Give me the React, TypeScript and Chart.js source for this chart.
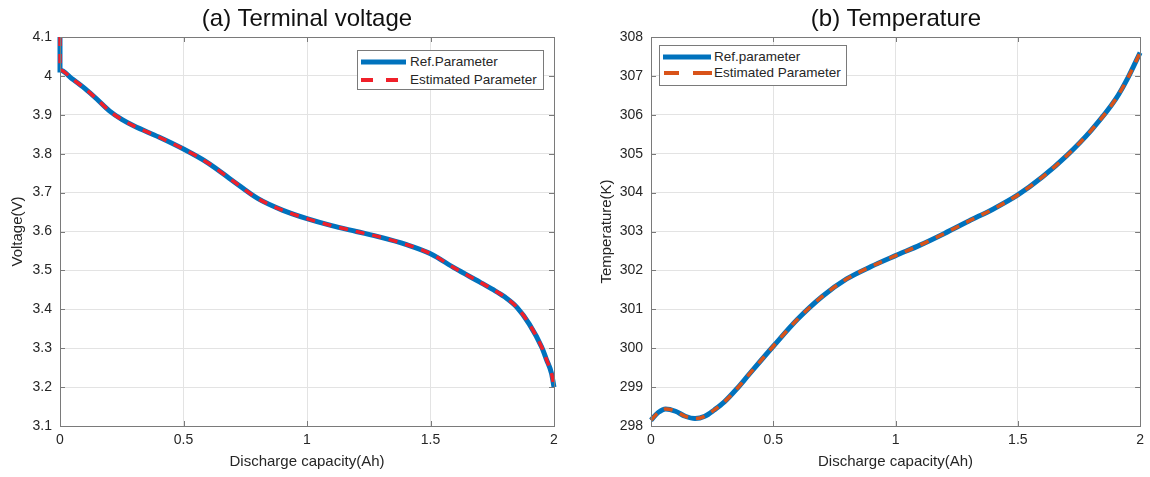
import React, { useEffect, useRef } from "react";
import { Chart, registerables } from "chart.js";

Chart.register(...registerables);

// ---- Data ----
const capacityV = [0, 0, 0.05, 0.1, 0.15, 0.2, 0.25, 0.3, 0.4, 0.5, 0.6, 0.7, 0.8, 0.9, 1.0, 1.1, 1.2, 1.3, 1.4, 1.5, 1.6, 1.7, 1.75, 1.8, 1.85, 1.9, 1.95, 1.97, 1.99, 2.0];
const voltageRef = [4.1, 4.015, 3.992, 3.968, 3.94, 3.91, 3.888, 3.871, 3.843, 3.812, 3.776, 3.73, 3.685, 3.655, 3.633, 3.615, 3.6, 3.585, 3.567, 3.543, 3.505, 3.47, 3.452, 3.432, 3.405, 3.362, 3.303, 3.27, 3.235, 3.2];
const voltageEst = [4.1, 4.015, 3.992, 3.968, 3.94, 3.91, 3.888, 3.871, 3.843, 3.812, 3.776, 3.73, 3.685, 3.655, 3.633, 3.615, 3.6, 3.585, 3.567, 3.543, 3.505, 3.47, 3.452, 3.432, 3.405, 3.362, 3.303, 3.27, 3.235, 3.2];

const capacityT = [0, 0.03, 0.06, 0.1, 0.14, 0.18, 0.22, 0.26, 0.3, 0.35, 0.4, 0.5, 0.6, 0.7, 0.8, 0.9, 1.0, 1.1, 1.2, 1.3, 1.4, 1.5, 1.6, 1.7, 1.8, 1.9, 1.95, 2.0];
const tempRef = [298.15, 298.35, 298.44, 298.38, 298.25, 298.19, 298.25, 298.42, 298.62, 298.95, 299.32, 300.05, 300.75, 301.33, 301.78, 302.1, 302.38, 302.65, 302.95, 303.27, 303.58, 303.94, 304.4, 304.95, 305.6, 306.4, 306.95, 307.6];
const tempEst = [298.15, 298.35, 298.44, 298.38, 298.25, 298.19, 298.25, 298.42, 298.62, 298.95, 299.32, 300.05, 300.75, 301.33, 301.78, 302.1, 302.38, 302.65, 302.95, 303.27, 303.58, 303.94, 304.4, 304.95, 305.6, 306.4, 306.95, 307.6];

const xTicks = [0, 0.5, 1, 1.5, 2];

const FONT = "'Liberation Sans', Arial, Helvetica, sans-serif";
const TEXT = "#262626";
const BLUE = "#0072BD";
const RED = "#F0202A";
const ORANGE = "#D95319";

const boxPlugin = {
  id: "matlabBox",
  afterDatasetsDraw(chart: any) {
    const { ctx, chartArea: a, scales } = chart;
    ctx.save();
    ctx.strokeStyle = "#7a7a7a";
    ctx.lineWidth = 1;
    const tl = 5;
    ctx.beginPath();
    for (const t of scales.x.ticks) {
      const px = Math.round(scales.x.getPixelForValue(t.value)) + 0.5;
      ctx.moveTo(px, a.bottom);
      ctx.lineTo(px, a.bottom - tl);
      ctx.moveTo(px, a.top);
      ctx.lineTo(px, a.top + tl);
    }
    for (const t of scales.y.ticks) {
      const py = Math.round(scales.y.getPixelForValue(t.value)) + 0.5;
      ctx.moveTo(a.left, py);
      ctx.lineTo(a.left + tl, py);
      ctx.moveTo(a.right, py);
      ctx.lineTo(a.right - tl, py);
    }
    ctx.stroke();
    ctx.strokeRect(Math.round(a.left) + 0.5, Math.round(a.top) + 0.5, Math.round(a.right - a.left), Math.round(a.bottom - a.top));
    ctx.restore();
  },
};

function makePoints(xs: number[], ys: number[]) {
  return xs.map((x, i) => ({ x, y: ys[i] }));
}

type PanelProps = {
  xs: number[];
  refY: number[];
  estY: number[];
  refLabel: string;
  estColor: string;
  yMin: number;
  yMax: number;
  yStep: number;
  yTitle: string;
  yAxisWidth: number;
  rightPad: number;
  yTitlePad: number;
};

function Panel(p: PanelProps) {
  const ref = useRef<HTMLCanvasElement | null>(null);
  useEffect(() => {
    if (!ref.current) return;
    const chart = new Chart(ref.current, {
      type: "line",
      data: {
        datasets: [
          {
            label: p.refLabel,
            data: makePoints(p.xs, p.refY),
            borderColor: BLUE,
            borderWidth: 5,
            pointRadius: 0,
            cubicInterpolationMode: "monotone",
            fill: false,
            order: 2,
            clip: 4,
          },
          {
            label: "Estimated Parameter",
            data: makePoints(p.xs, p.estY),
            borderColor: p.estColor,
            borderWidth: 3.5,
            borderDash: [9, 8],
            pointRadius: 0,
            cubicInterpolationMode: "monotone",
            fill: false,
            order: 1,
            clip: 4,
          },
        ],
      },
      options: {
        animation: false,
        responsive: false,
        devicePixelRatio: 1,
        layout: { padding: { top: 37, right: p.rightPad, left: 0, bottom: 0 } },
        plugins: { legend: { display: false }, tooltip: { enabled: false }, title: { display: false } },
        scales: {
          x: {
            type: "linear",
            min: 0,
            max: 2,
            afterBuildTicks: (s: any) => {
              s.ticks = xTicks.map((v) => ({ value: v }));
            },
            afterFit: (s: any) => {
              s.height = 51;
            },
            ticks: {
              callback: (v: any) => String(Math.round(Number(v) * 10) / 10),
              font: { family: FONT, size: 14 },
              color: TEXT,
              padding: 6,
              maxRotation: 0,
            },
            grid: { color: "#e3e3e3", drawTicks: false, lineWidth: 1 },
            border: { display: false },
            title: {
              display: true,
              text: "Discharge capacity(Ah)",
              font: { family: FONT, size: 15 },
              color: TEXT,
              padding: { top: 0, bottom: 6 },
            },
          },
          y: {
            type: "linear",
            min: p.yMin,
            max: p.yMax,
            ticks: {
              stepSize: p.yStep,
              callback: (v: any) => String(Math.round(Number(v) * 10) / 10),
              font: { family: FONT, size: 14 },
              color: TEXT,
              padding: 8,
            },
            afterFit: (s: any) => {
              s.width = p.yAxisWidth;
            },
            grid: { color: "#e3e3e3", drawTicks: false, lineWidth: 1 },
            border: { display: false },
            title: {
              display: true,
              text: p.yTitle,
              font: { family: FONT, size: 15 },
              color: TEXT,
              padding: { top: p.yTitlePad, bottom: 0 },
            },
          },
        },
      },
      plugins: [boxPlugin],
    } as any);
    return () => chart.destroy();
  }, []);
  return <canvas ref={ref} width={575} height={477} style={{ width: 575, height: 477, display: "block" }} />;
}

function LegendBox(props: {
  left: number;
  top: number;
  width: number;
  height: number;
  refLabel: string;
  estColor: string;
  sampleW: number;
  dashes: [number, number][];
  rows: [number, number];
  textX: number;
}) {
  const { left, top, width, height, refLabel, estColor, sampleW, dashes, rows, textX } = props;
  return (
    <div
      style={{
        position: "absolute",
        left,
        top,
        width,
        height,
        border: "1px solid #7a7a7a",
        background: "#fff",
        boxSizing: "border-box",
        fontFamily: FONT,
        fontSize: 13.5,
        color: TEXT,
      }}
    >
      <svg width={width} height={height} style={{ position: "absolute", left: -1, top: -1 }}>
        <line x1={4} x2={4 + sampleW} y1={rows[0]} y2={rows[0]} stroke={BLUE} strokeWidth={5} />
        {dashes.map(([a, b], i) => (
          <line key={i} x1={a} x2={b} y1={rows[1]} y2={rows[1]} stroke={estColor} strokeWidth={4} />
        ))}
      </svg>
      <div style={{ position: "absolute", left: textX, top: rows[0] - 9, lineHeight: "16px", whiteSpace: "nowrap" }}>{refLabel}</div>
      <div style={{ position: "absolute", left: textX, top: rows[1] - 9, lineHeight: "16px", whiteSpace: "nowrap" }}>Estimated Parameter</div>
    </div>
  );
}

export default function App() {
  const titleStyle: React.CSSProperties = {
    position: "absolute",
    top: 4,
    fontFamily: FONT,
    fontSize: 24,
    color: "#111",
    whiteSpace: "nowrap",
    transform: "translateX(-50%)",
    lineHeight: "28px",
  };
  return (
    <div style={{ position: "fixed", left: 0, top: 0, width: 1150, height: 477, background: "#fff", overflow: "hidden" }}>
      <div style={{ position: "absolute", left: 0, top: 0 }}>
        <Panel
          xs={capacityV}
          refY={voltageRef}
          estY={voltageEst}
          refLabel="Ref.Parameter"
          estColor={RED}
          yMin={3.1}
          yMax={4.1}
          yStep={0.1}
          yTitle="Voltage(V)"
          yAxisWidth={60}
          rightPad={21}
          yTitlePad={9}
        />
      </div>
      <div style={{ position: "absolute", left: 575, top: 0 }}>
        <Panel
          xs={capacityT}
          refY={tempRef}
          estY={tempEst}
          refLabel="Ref.parameter"
          estColor={ORANGE}
          yMin={298}
          yMax={308}
          yStep={1}
          yTitle="Temperature(K)"
          yAxisWidth={76}
          rightPad={9}
          yTitlePad={23}
        />
      </div>
      <div style={{ ...titleStyle, left: 307 }}>(a) Terminal voltage</div>
      <div style={{ ...titleStyle, left: 896 }}>(b) Temperature</div>
      <LegendBox
        left={357}
        top={50}
        width={187}
        height={40}
        refLabel="Ref.Parameter"
        estColor={RED}
        sampleW={45}
        dashes={[
          [4, 16],
          [29, 41],
        ]}
        rows={[12, 30]}
        textX={52}
      />
      <LegendBox
        left={659}
        top={45}
        width={188}
        height={41}
        refLabel="Ref.parameter"
        estColor={ORANGE}
        sampleW={48}
        dashes={[
          [5, 20],
          [34, 53],
        ]}
        rows={[12, 28]}
        textX={54}
      />
    </div>
  );
}
